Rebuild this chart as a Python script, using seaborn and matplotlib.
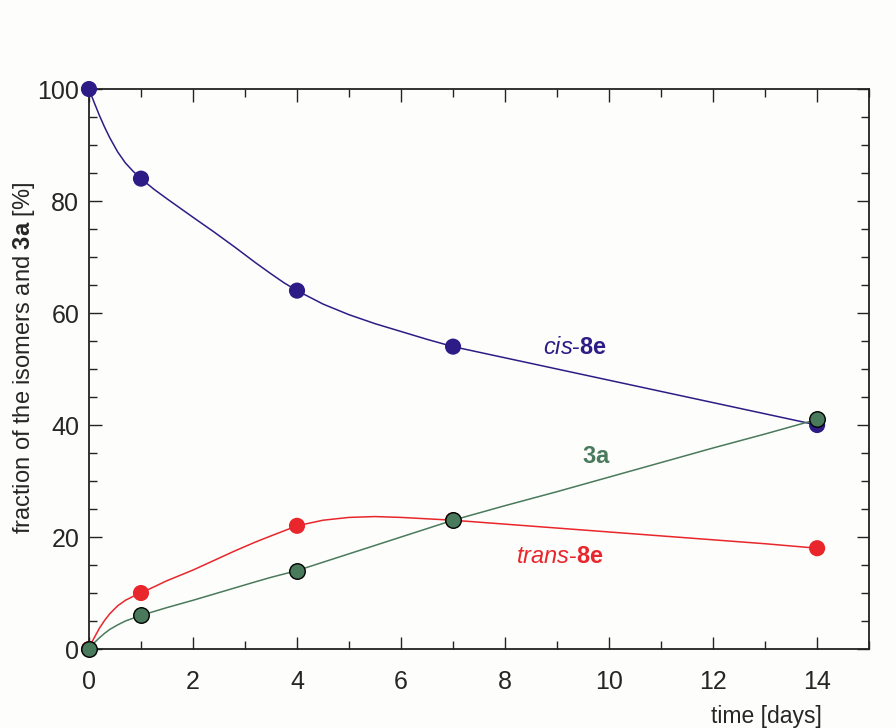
import numpy as np
import pandas as pd
import matplotlib
matplotlib.use('Agg')
import matplotlib.pyplot as plt
from matplotlib.ticker import MultipleLocator
import seaborn as sns

# measured points
days = [0, 1, 4, 7, 14]
cis_8e = [100, 84, 64, 54, 40]
trans_8e = [0, 10, 22, 23, 18]
comp_3a = [0, 6, 14, 23, 41]

# fitted curves
fit_t = [0, 0.05, 0.1, 0.2, 0.3, 0.4, 0.55, 0.7, 0.85, 1, 1.25, 1.5, 2, 2.4, 2.8, 3.2, 3.5, 3.75,
         4, 4.5, 5, 5.5, 6, 6.5, 7, 8, 9, 10, 11, 12, 13, 14]
fit_cis = [100, 98.8, 97.6, 95.3, 93.2, 91.3, 88.8, 86.8, 85.3, 84, 82.1, 80.4, 77.1, 74.5, 71.8,
           69, 67, 65.4, 64, 61.6, 59.7, 58.1, 56.7, 55.3, 54, 52, 50, 48, 46, 44, 42, 40]
fit_trans = [0, 1.1, 2.0, 3.7, 5.1, 6.3, 7.7, 8.7, 9.4, 10, 11.1, 12.2, 14.1, 15.8, 17.5,
             19.1, 20.2, 21.1, 22, 23.0, 23.5, 23.65, 23.5, 23.25, 23, 22.3, 21.6, 20.9, 20.2,
             19.5, 18.8, 18]
fit_3a = [0, 0.6, 1.1, 2.0, 2.8, 3.5, 4.3, 5.0, 5.5, 6, 6.7, 7.4, 8.7, 9.8, 10.9, 12, 12.8,
          13.4, 14, 15.5, 17, 18.5, 20, 21.5, 23, 25.6, 28.1, 30.7, 33.3, 35.9, 38.4, 41]

colors = {'cis': '#2e1c86', 'trans': '#e8262b', '3a': '#4a7a5c'}

n = len(fit_t)
pts = pd.DataFrame({
    't': days * 3,
    'v': cis_8e + trans_8e + comp_3a,
    's': ['cis'] * 5 + ['trans'] * 5 + ['3a'] * 5,
})
fits = pd.DataFrame({
    't': fit_t * 3,
    'v': fit_cis + fit_trans + fit_3a,
    's': ['cis'] * n + ['trans'] * n + ['3a'] * n,
})

sns.set_style('ticks')
plt.rcParams['font.family'] = ['Liberation Sans', 'DejaVu Sans']
plt.rcParams['mathtext.fontset'] = 'custom'
plt.rcParams['mathtext.rm'] = 'Liberation Sans'
plt.rcParams['mathtext.it'] = 'Liberation Sans:italic'
plt.rcParams['mathtext.bf'] = 'Liberation Sans:bold'

fig = plt.figure(figsize=(8.96, 7.28), dpi=100, facecolor='#fdfdfb')
ax = fig.add_axes([0.0993, 0.1085, 0.8707, 0.7692])
ax.set_facecolor('#fdfdfb')

sns.lineplot(data=fits, x='t', y='v', hue='s', palette=colors, legend=False,
             linewidth=1.1, ax=ax, sort=False, estimator=None)

sns.scatterplot(data=pts[pts['s'] != '3a'], x='t', y='v', hue='s', palette=colors,
                legend=False, s=135, linewidth=0, ax=ax, zorder=3, clip_on=False)
sns.scatterplot(data=pts[pts['s'] == '3a'], x='t', y='v', color=colors['3a'],
                legend=False, s=125, edgecolor='black', linewidth=1.0, ax=ax,
                zorder=4, clip_on=False)

ax.set_xlim(0, 15)
ax.set_ylim(0, 100)
ax.xaxis.set_major_locator(MultipleLocator(2))
ax.xaxis.set_minor_locator(MultipleLocator(1))
ax.yaxis.set_major_locator(MultipleLocator(20))
ax.yaxis.set_minor_locator(MultipleLocator(5))
ax.tick_params(which='both', direction='in', top=True, right=True,
               labelsize=18, color='#222222', width=1.0)
ax.tick_params(which='major', length=9)
ax.tick_params(which='minor', length=6)
ax.tick_params(axis='x', pad=15)
ax.tick_params(axis='y', pad=7)
for sp in ax.spines.values():
    sp.set_linewidth(1.3)
    sp.set_color('#222222')

ax.set_xlabel('time [days]', fontsize=16.5, ha='right')
ax.xaxis.set_label_coords(0.94, -0.1)
ax.set_ylabel(r'fraction of the isomers and $\mathbf{3a}$ [%]', fontsize=17)
ax.yaxis.set_label_coords(-0.066, 0.52)

ax.text(9.35, 53.8, r'$\mathit{cis}$-$\mathbf{8e}$', color=colors['cis'], fontsize=17,
        ha='center', va='center')
ax.text(9.75, 34.2, r'$\mathbf{3a}$', color=colors['3a'], fontsize=17,
        ha='center', va='center')
ax.text(9.06, 16.5, r'$\mathit{trans}$-$\mathbf{8e}$', color=colors['trans'], fontsize=17,
        ha='center', va='center')

fig.savefig('out.png', dpi=100, facecolor=fig.get_facecolor())
